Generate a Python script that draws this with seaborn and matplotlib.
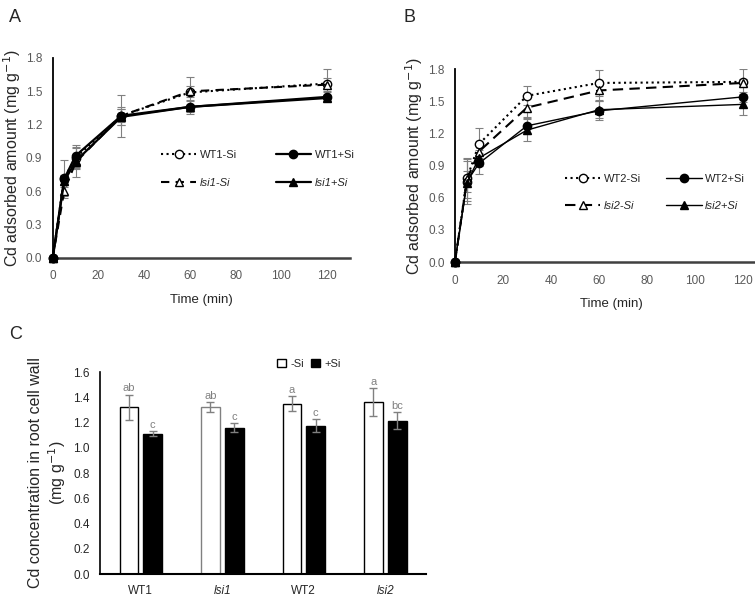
import matplotlib
matplotlib.use("Agg")
import matplotlib.pyplot as plt
from matplotlib.patches import Patch
from matplotlib.lines import Line2D
import seaborn as sns
import pandas as pd

sns.set_style("white")
plt.rcParams['font.family'] = ['Liberation Sans', 'DejaVu Sans']

# Adsorption kinetics (time in min, Cd in mg g-1)
time = [0, 5, 10, 30, 60, 120]

wt1_minus = [0, 0.72, 0.90, 1.28, 1.49, 1.57]
wt1_minus_err = [0, 0.16, 0.10, 0.19, 0.14, 0.13]
wt1_plus = [0, 0.71, 0.92, 1.28, 1.36, 1.45]
wt1_plus_err = [0, 0.04, 0.10, 0.06, 0.06, 0.04]
lsi1_minus = [0, 0.60, 0.86, 1.28, 1.50, 1.56]
lsi1_minus_err = [0, 0.06, 0.13, 0.08, 0.05, 0.06]
lsi1_plus = [0, 0.69, 0.87, 1.27, 1.36, 1.44]
lsi1_plus_err = [0, 0.05, 0.06, 0.07, 0.05, 0.03]

wt2_minus = [0, 0.78, 1.10, 1.55, 1.67, 1.68]
wt2_minus_err = [0, 0.18, 0.15, 0.09, 0.12, 0.12]
wt2_plus = [0, 0.75, 0.92, 1.27, 1.41, 1.54]
wt2_plus_err = [0, 0.10, 0.10, 0.08, 0.09, 0.05]
lsi2_minus = [0, 0.77, 1.03, 1.44, 1.60, 1.67]
lsi2_minus_err = [0, 0.20, 0.06, 0.10, 0.09, 0.04]
lsi2_plus = [0, 0.74, 0.97, 1.23, 1.42, 1.47]
lsi2_plus_err = [0, 0.20, 0.07, 0.10, 0.08, 0.10]

# Cell wall Cd concentration
genotypes = ["WT1", "lsi1", "WT2", "lsi2"]
minus_si = [1.32, 1.32, 1.35, 1.365]
minus_si_err = [0.10, 0.04, 0.06, 0.11]
plus_si = [1.11, 1.16, 1.175, 1.215]
plus_si_err = [0.02, 0.035, 0.05, 0.065]
minus_letters = ["ab", "ab", "a", "a"]
plus_letters = ["c", "c", "c", "bc"]

GRAY = "#808080"
TICK = "#595959"

fig = plt.figure(figsize=(7.55, 5.99), dpi=100)
axA = fig.add_axes([0.0698, 0.5693, 0.3938, 0.3339])
axB = fig.add_axes([0.6026, 0.5626, 0.4132, 0.3222])
axC = fig.add_axes([0.1325, 0.0417, 0.4318, 0.3372])


def kinetics(ax, series, legend_labels, legend_pos, colspace):
    handles = []
    for y, err, ls, mk, mfc, lw in series:
        ax.errorbar(time, y, yerr=err, fmt='none', ecolor=GRAY, elinewidth=0.8,
                    capsize=3, capthick=0.8, zorder=1)
    for (y, err, ls, mk, mfc, lw), lab in zip(series, legend_labels):
        df = pd.DataFrame({"t": time, "y": y})
        kw = dict(linestyle=ls) if isinstance(ls, str) else dict(dashes=ls)
        sns.lineplot(data=df, x="t", y="y", ax=ax, color="black", lw=lw,
                     marker=mk, markersize=6, markerfacecolor=mfc,
                     markeredgecolor="black", markeredgewidth=1,
                     clip_on=False, zorder=3, **kw)
        h = Line2D([], [], color="black", lw=lw, marker=mk, markersize=6,
                   markerfacecolor=mfc, markeredgecolor="black", **kw)
        handles.append(h)
    ax.set_xlim(0, 130)
    ax.set_ylim(0, 1.8)
    ax.set_xticks(range(0, 121, 20))
    yt = [0, 0.3, 0.6, 0.9, 1.2, 1.5, 1.8]
    ax.set_yticks(yt)
    ax.set_yticklabels([f"{v:.1f}" for v in yt])
    ax.tick_params(axis='x', direction='in', length=4, width=1, colors="#404040",
                   labelcolor=TICK, labelsize=8.5, pad=9)
    ax.tick_params(axis='y', direction='out', length=4, width=1, colors="black",
                   labelcolor=TICK, labelsize=8.5)
    for s in ["top", "right"]:
        ax.spines[s].set_visible(False)
    ax.spines["left"].set_color("black")
    ax.spines["left"].set_linewidth(1.3)
    ax.spines["bottom"].set_color("#404040")
    ax.spines["bottom"].set_linewidth(1.8)
    ax.set_xlabel("Time (min)", fontsize=9.5, labelpad=8)
    ax.set_ylabel("Cd adsorbed amount (mg g$^{-1}$)", fontsize=11.5, labelpad=2)
    # order so that columns are (-Si, +Si)
    order = [0, 2, 1, 3]
    leg = ax.legend([handles[i] for i in order], [legend_labels[i] for i in order],
                    ncol=2, frameon=False, loc="upper left", bbox_to_anchor=legend_pos,
                    fontsize=8, handlelength=3.2, labelspacing=1.6, columnspacing=colspace,
                    handletextpad=0.3)
    for t in leg.get_texts():
        if t.get_text().startswith("lsi"):
            t.set_style("italic")


kinetics(axA,
         [(wt1_minus, wt1_minus_err, ':', 'o', 'white', 1.5),
          (wt1_plus, wt1_plus_err, '-', 'o', 'black', 1.6),
          (lsi1_minus, lsi1_minus_err, (4, 3), '^', 'white', 1.5),
          (lsi1_plus, lsi1_plus_err, '-', '^', 'black', 1.6)],
         ["WT1-Si", "WT1+Si", "lsi1-Si", "lsi1+Si"], (0.33, 0.59), 3.5)

kinetics(axB,
         [(wt2_minus, wt2_minus_err, ':', 'o', 'white', 1.5),
          (wt2_plus, wt2_plus_err, '-', 'o', 'black', 1.0),
          (lsi2_minus, lsi2_minus_err, (5, 3), '^', 'white', 1.5),
          (lsi2_plus, lsi2_plus_err, '-', '^', 'black', 1.0)],
         ["WT2-Si", "WT2+Si", "lsi2-Si", "lsi2+Si"], (0.32, 0.51), 2.3)

# Panel C bar chart
dfc = pd.DataFrame({
    "genotype": genotypes * 2,
    "value": minus_si + plus_si,
    "treat": ["-Si"] * 4 + ["+Si"] * 4,
})
sns.barplot(data=dfc, x="genotype", y="value", hue="treat", order=genotypes,
            hue_order=["-Si", "+Si"], palette={"-Si": "white", "+Si": "black"},
            edgecolor="black", linewidth=1, width=0.58, gap=0.2, errorbar=None,
            legend=False, ax=axC)

bars = axC.patches
errs = minus_si_err + plus_si_err
vals = minus_si + plus_si
letters = minus_letters + plus_letters
for i, p in enumerate(bars[:8]):
    cx = p.get_x() + p.get_width() / 2
    axC.errorbar(cx, vals[i], yerr=errs[i], fmt='none', ecolor=GRAY,
                 elinewidth=1, capsize=3, capthick=1, zorder=3)
    axC.text(cx, vals[i] + errs[i] + 0.01, letters[i], ha="center", va="bottom",
             fontsize=8, color=GRAY)
bars[1].set_edgecolor(GRAY)

axC.set_ylim(0, 1.6)
axC.set_xlim(-0.5, 3.5)
yc = [0, 0.2, 0.4, 0.6, 0.8, 1.0, 1.2, 1.4, 1.6]
axC.set_yticks(yc)
axC.set_yticklabels([f"{v:.1f}" for v in yc])
axC.tick_params(axis='y', direction='out', length=4, width=1, colors="black",
                labelsize=8.5, labelcolor="#262626")
axC.tick_params(axis='x', length=0, labelsize=8.5, pad=8, labelcolor="#262626")
for lab in axC.get_xticklabels():
    if lab.get_text().startswith("lsi"):
        lab.set_style("italic")
for s in ["top", "right"]:
    axC.spines[s].set_visible(False)
axC.spines["left"].set_color("black")
axC.spines["left"].set_linewidth(1.2)
axC.spines["bottom"].set_color("black")
axC.spines["bottom"].set_linewidth(1.5)
axC.set_xlabel("")
axC.set_ylabel("Cd concentration in root cell wall\n(mg g$^{-1}$)", fontsize=11.5)
axC.legend(handles=[Patch(facecolor="white", edgecolor="black", label="-Si"),
                    Patch(facecolor="black", edgecolor="black", label="+Si")],
           ncol=2, frameon=False, loc="center", bbox_to_anchor=(0.64, 1.04),
           fontsize=8, handlelength=0.8, handleheight=0.8, handletextpad=0.4,
           columnspacing=0.6)

fig.text(0.012, 0.985, "A", fontsize=13, va="top")
fig.text(0.535, 0.985, "B", fontsize=13, va="top")
fig.text(0.012, 0.455, "C", fontsize=13, va="top")

fig.savefig("out.png", dpi=100)
